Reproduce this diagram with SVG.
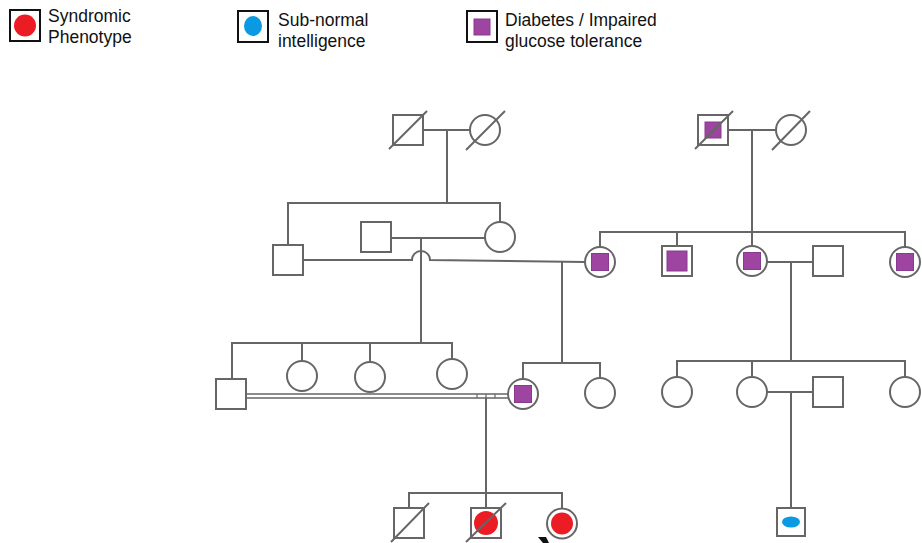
<svg xmlns="http://www.w3.org/2000/svg" width="922" height="543" viewBox="0 0 922 543">
<style>
.ln{fill:none;stroke:#666;stroke-width:2}
.nd{fill:#fff;stroke:#666;stroke-width:2}
.lg{fill:#fff;stroke:#111;stroke-width:2}
.sl{stroke:#666;stroke-width:2}
.pu{fill:#9d45a0;stroke:#8a3a8e;stroke-width:1}
.rd{fill:#ec1c24}
.bl{fill:#0a9ae4}
.tx{font-family:"Liberation Sans",Arial,sans-serif;font-size:17.5px;fill:#111}
</style>
<rect width="922" height="543" fill="#fff"/>
<g id="legend">
<g id="legend-syndromic"><rect class="lg" x="10" y="10" width="30" height="31"/><circle class="rd" cx="25" cy="25.5" r="11"/><text class="tx" x="48" y="22">Syndromic</text><text class="tx" x="48" y="43">Phenotype</text></g>
<g id="legend-subnormal"><rect class="lg" x="238" y="11" width="30" height="31"/><ellipse class="bl" cx="253" cy="26" rx="9" ry="10"/><text class="tx" x="278" y="26">Sub-normal</text><text class="tx" x="278" y="47">intelligence</text></g>
<g id="legend-diabetes"><rect class="lg" x="467" y="11" width="30" height="31"/><rect class="pu" x="474" y="19" width="16" height="16"/><text class="tx" x="505" y="26">Diabetes / Impaired</text><text class="tx" x="505" y="47">glucose tolerance</text></g>
</g>
<g id="connectors" class="ln">
<path d="M423,130 H470 M447,130 V203"/>
<path d="M288,245 V203 H500 V222"/>
<path d="M391,238 H486"/>
<path d="M303,260 H412 A9,9 0 0 1 430,260 L585,262"/>
<path d="M421,238 V343"/>
<path d="M232,379 V343 H452 V359 M302,343 V361 M370,343 V362"/>
<path d="M562,262 V363 M523,379 V363 H600 V378"/>
<path d="M728,130 H776 M752,130 V232"/>
<path d="M600,247 V232 H905 V247 M677,232 V246 M752,232 V246"/>
<path d="M767,262 H813 M791,262 V361"/>
<path d="M677,377 V361 H905 V377 M752,361 V377"/>
<path d="M767,392 H813 M791,392 V508"/>
<path d="M246,394 H509 M246,398 H509" stroke-width="1.6"/>
<path d="M477,394 V398 M486,394 V398 M495,394 V398" stroke-width="1.2"/>
<path d="M486,398 V493 M409,508 V493 H562 V509 M486,493 V508"/>
</g>
<g id="I-1"><rect class="nd" x="393" y="115" width="30" height="30"/><line class="sl" x1="389" y1="149" x2="427" y2="111"/></g>
<g id="I-2"><circle class="nd" cx="485" cy="130" r="15"/><line class="sl" x1="466" y1="150" x2="505" y2="111"/></g>
<g id="I-3"><rect class="nd" x="698" y="115" width="30" height="30"/><rect class="pu" x="705" y="122" width="16" height="16"/><line class="sl" x1="695" y1="149" x2="733" y2="111"/></g>
<g id="I-4"><circle class="nd" cx="791" cy="130" r="15"/><line class="sl" x1="772" y1="150" x2="810" y2="111"/></g>
<g id="II-1"><rect class="nd" x="273" y="245" width="30" height="30"/></g>
<g id="II-2"><rect class="nd" x="361" y="222" width="30" height="30"/></g>
<g id="II-3"><circle class="nd" cx="500" cy="237" r="15"/></g>
<g id="II-4"><circle class="nd" cx="600" cy="262" r="15"/><rect class="pu" x="591.5" y="253.5" width="17" height="17"/></g>
<g id="II-5"><rect class="nd" x="662" y="246" width="30" height="30"/><rect class="pu" x="667" y="251" width="20" height="20"/></g>
<g id="II-6"><circle class="nd" cx="752" cy="261" r="15"/><rect class="pu" x="743.5" y="252.5" width="17" height="17"/></g>
<g id="II-7"><rect class="nd" x="813" y="246" width="30" height="30"/></g>
<g id="II-8"><circle class="nd" cx="905" cy="262" r="15"/><rect class="pu" x="896.5" y="253.5" width="17" height="17"/></g>
<g id="III-1"><rect class="nd" x="216" y="379" width="30" height="30"/></g>
<g id="III-2"><circle class="nd" cx="302" cy="376" r="15"/></g>
<g id="III-3"><circle class="nd" cx="370" cy="377" r="15"/></g>
<g id="III-4"><circle class="nd" cx="452" cy="374" r="15"/></g>
<g id="III-5"><circle class="nd" cx="523" cy="394" r="15"/><rect class="pu" x="514.5" y="385.5" width="17" height="17"/></g>
<g id="III-6"><circle class="nd" cx="600" cy="393" r="15"/></g>
<g id="III-7"><circle class="nd" cx="677" cy="392" r="15"/></g>
<g id="III-8"><circle class="nd" cx="752" cy="392" r="15"/></g>
<g id="III-9"><rect class="nd" x="813" y="377" width="30" height="30"/></g>
<g id="III-10"><circle class="nd" cx="905" cy="392" r="15"/></g>
<g id="IV-1"><rect class="nd" x="394" y="508" width="30" height="30"/><line class="sl" x1="391" y1="542" x2="429" y2="503"/></g>
<g id="IV-2"><rect class="nd" x="471" y="508" width="30" height="30"/><circle class="rd" cx="486" cy="523" r="12"/><line class="sl" x1="466" y1="542" x2="506" y2="503"/></g>
<g id="IV-3"><circle class="nd" cx="562" cy="523.5" r="15"/><circle class="rd" cx="562" cy="523.5" r="11"/></g>
<g id="IV-4"><rect class="nd" x="777" y="508" width="28" height="28"/><ellipse class="bl" cx="791" cy="522" rx="9" ry="5.5"/></g>
<g id="proband-arrow"><polygon points="538,537 546,537 549,543 543,543" fill="#111"/></g>
</svg>
